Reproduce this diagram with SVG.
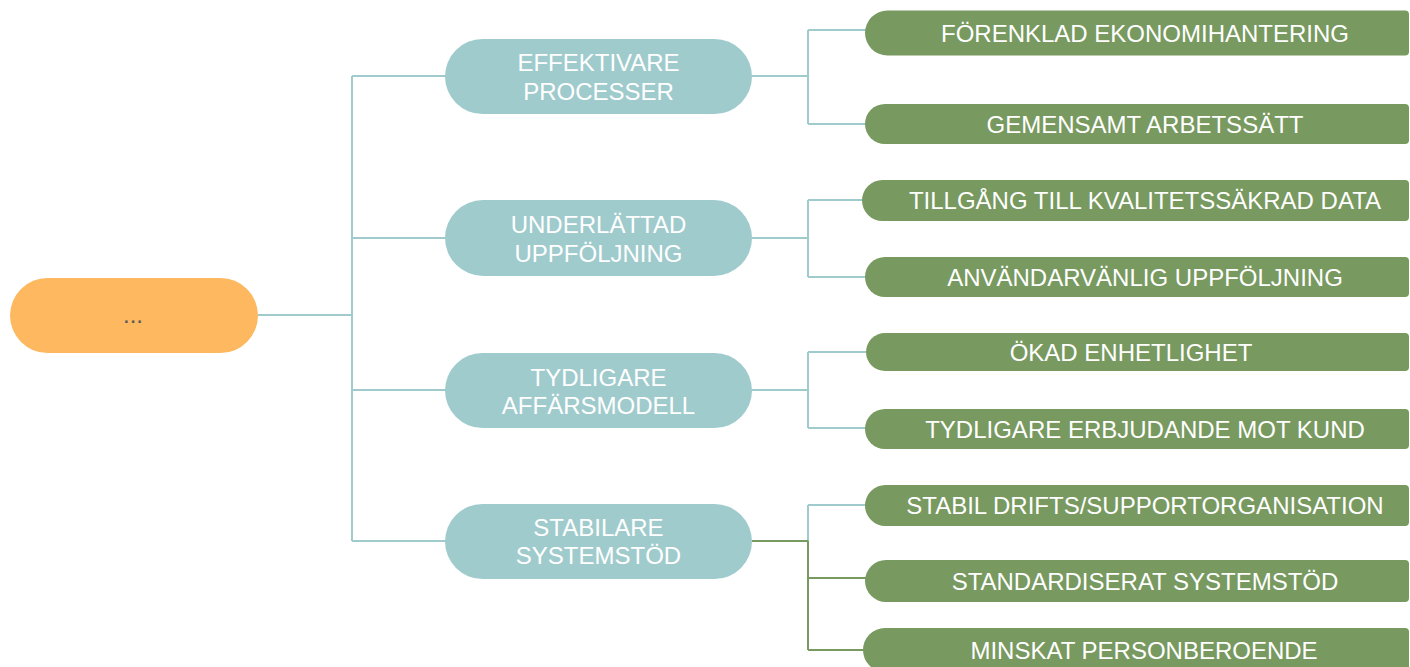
<svg xmlns="http://www.w3.org/2000/svg" width="1410" height="667" viewBox="0 0 1410 667">
<style>
.t{font-family:"Liberation Sans",Arial,sans-serif;font-size:24px;fill:#ffffff;text-anchor:middle}
.root{fill:#FDB860}
.mid{fill:#9FCBCD}
.leaf{fill:#78995F}
.ct{fill:none;stroke:#9FCBCD;stroke-width:2}
.cg{fill:none;stroke:#78995F;stroke-width:2}
</style>
<rect width="1410" height="667" fill="#ffffff"/>
<g id="connectors">
<path class="ct" d="M258 315H352M352 76V541M352 76H446M352 238H446M352 390H446M352 541H446"/>
<path class="ct" d="M752 76H808M808 30V124M808 30H866M808 124H866"/>
<path class="ct" d="M752 238H808M808 200V277M808 200H863M808 277H866"/>
<path class="ct" d="M752 390H808M808 352V428M808 352H866M808 428H866"/>
<path class="ct" d="M808 505V541M808 505H866"/>
<path class="cg" d="M752 541H808M808 541V650M808 578H866M808 650H864"/>
</g>
<g id="root"><rect class="root" x="10" y="278" width="248" height="75" rx="37.5"/><text x="133" y="323" class="t" style="fill:#595959">...</text></g>
<g id="n1"><rect class="mid" x="445" y="39" width="307" height="75" rx="37.5"/><text class="t" x="598.5" y="71">EFFEKTIVARE</text><text class="t" x="598.5" y="100">PROCESSER</text></g>
<g id="n2"><rect class="mid" x="445" y="200" width="307" height="76" rx="38"/><text class="t" x="598.5" y="233">UNDERLÄTTAD</text><text class="t" x="598.5" y="262">UPPFÖLJNING</text></g>
<g id="n3"><rect class="mid" x="445" y="353" width="307" height="75" rx="37.5"/><text class="t" x="598.5" y="386">TYDLIGARE</text><text class="t" x="598.5" y="414">AFFÄRSMODELL</text></g>
<g id="n4"><rect class="mid" x="445" y="504" width="307" height="75" rx="37.5"/><text class="t" x="598.5" y="536">STABILARE</text><text class="t" x="598.5" y="564">SYSTEMSTÖD</text></g>
<g id="l1"><path class="leaf" d="M887.5 10.5H1405a4 4 0 0 1 4 4V51.5a4 4 0 0 1-4 4H887.5a22.5 22.5 0 0 1 0-45Z"/><text class="t" x="1145" y="41.5">FÖRENKLAD EKONOMIHANTERING</text></g>
<g id="l2"><path class="leaf" d="M885 104H1405a4 4 0 0 1 4 4V140a4 4 0 0 1-4 4H885a20 20 0 0 1 0-40Z"/><text class="t" x="1145" y="133">GEMENSAMT ARBETSSÄTT</text></g>
<g id="l3"><path class="leaf" d="M882.5 180H1405a4 4 0 0 1 4 4V217a4 4 0 0 1-4 4H882.5a20.5 20.5 0 0 1 0-41Z"/><text class="t" x="1145" y="209">TILLGÅNG TILL KVALITETSSÄKRAD DATA</text></g>
<g id="l4"><path class="leaf" d="M885 257H1405a4 4 0 0 1 4 4V293a4 4 0 0 1-4 4H885a20 20 0 0 1 0-40Z"/><text class="t" x="1145" y="285.5">ANVÄNDARVÄNLIG UPPFÖLJNING</text></g>
<g id="l5"><path class="leaf" d="M885 333H1405a4 4 0 0 1 4 4V367a4 4 0 0 1-4 4H885a19 19 0 0 1 0-38Z"/><text class="t" x="1131" y="361">ÖKAD ENHETLIGHET</text></g>
<g id="l6"><path class="leaf" d="M885 409H1405a4 4 0 0 1 4 4V445a4 4 0 0 1-4 4H885a20 20 0 0 1 0-40Z"/><text class="t" x="1145" y="437.5">TYDLIGARE ERBJUDANDE MOT KUND</text></g>
<g id="l7"><path class="leaf" d="M885.5 485H1405a4 4 0 0 1 4 4V522a4 4 0 0 1-4 4H885.5a20.5 20.5 0 0 1 0-41Z"/><text class="t" x="1145" y="514">STABIL DRIFTS/SUPPORTORGANISATION</text></g>
<g id="l8"><path class="leaf" d="M886 560H1405a4 4 0 0 1 4 4V598a4 4 0 0 1-4 4H886a21 21 0 0 1 0-42Z"/><text class="t" x="1145" y="589.5">STANDARDISERAT SYSTEMSTÖD</text></g>
<g id="l9"><path class="leaf" d="M885 628H1405a4 4 0 0 1 4 4V668a4 4 0 0 1-4 4H885a22 22 0 0 1 0-44Z"/><text class="t" x="1144" y="658.5">MINSKAT PERSONBEROENDE</text></g>
</svg>
